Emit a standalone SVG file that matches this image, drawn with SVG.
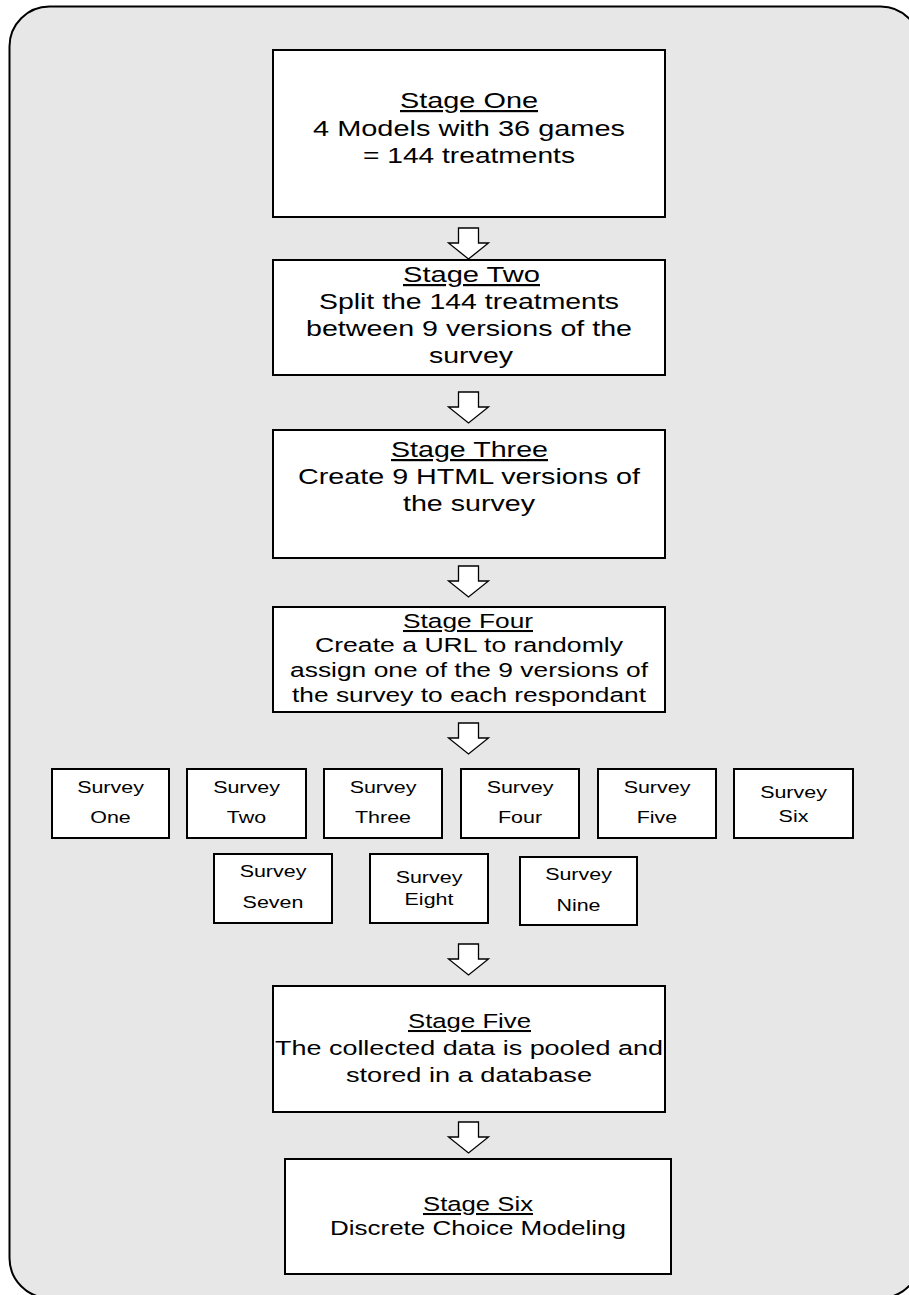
<svg xmlns="http://www.w3.org/2000/svg" width="909" height="1295" viewBox="0 0 909 1295">
<style>
.bg{fill:#e7e7e7;stroke:#000;stroke-width:2}
.box{fill:#fff;stroke:#000;stroke-width:2}
.arr{fill:#fff;stroke:#000;stroke-width:1.3;stroke-linejoin:miter}
text{font-family:"Liberation Sans",Arial,sans-serif;fill:#000}
.t22{font-size:22px}
.t20{font-size:20.5px}
.s{font-size:16.5px;text-anchor:middle}
.u{text-decoration:underline}
</style>
<defs>
<path id="blk" d="M-10,0 L10,0 L10,15 L20,15 L0,31 L-20,15 L-10,15 Z"/>
</defs>
<rect class="bg" x="9.5" y="6.5" width="911" height="1291.5" rx="40" ry="40"/>

<g id="connectors">
<use href="#blk" class="arr" transform="translate(468.5,228)"/>
<use href="#blk" class="arr" transform="translate(468.5,392)"/>
<use href="#blk" class="arr" transform="translate(468.5,566)"/>
<use href="#blk" class="arr" transform="translate(468.5,723)"/>
<use href="#blk" class="arr" transform="translate(468.5,944)"/>
<use href="#blk" class="arr" transform="translate(468.5,1122)"/>
</g>

<g id="stage1" class="t22">
<rect class="box" x="273" y="50" width="392" height="167"/>
<text class="u" x="400" y="108" textLength="138" lengthAdjust="spacingAndGlyphs">Stage One</text>
<text x="313" y="136" textLength="312" lengthAdjust="spacingAndGlyphs">4 Models with 36 games</text>
<text x="363" y="163" textLength="212" lengthAdjust="spacingAndGlyphs">= 144 treatments</text>
</g>

<g id="stage2" class="t22">
<rect class="box" x="273" y="260" width="392" height="115"/>
<text class="u" x="403" y="282" textLength="137" lengthAdjust="spacingAndGlyphs">Stage Two</text>
<text x="319" y="309" textLength="300" lengthAdjust="spacingAndGlyphs">Split the 144 treatments</text>
<text x="306" y="336" textLength="326" lengthAdjust="spacingAndGlyphs">between 9 versions of the</text>
<text x="429" y="363" textLength="84" lengthAdjust="spacingAndGlyphs">survey</text>
</g>

<g id="stage3" class="t22">
<rect class="box" x="273" y="430" width="392" height="128"/>
<text class="u" x="391" y="457" textLength="157" lengthAdjust="spacingAndGlyphs">Stage Three</text>
<text x="298" y="484" textLength="342" lengthAdjust="spacingAndGlyphs">Create 9 HTML versions of</text>
<text x="403" y="511" textLength="132" lengthAdjust="spacingAndGlyphs">the survey</text>
</g>

<g id="stage4" class="t20">
<rect class="box" x="273" y="607" width="392" height="105"/>
<text class="u" x="403" y="628" textLength="130" lengthAdjust="spacingAndGlyphs">Stage Four</text>
<text x="315" y="652" textLength="308" lengthAdjust="spacingAndGlyphs">Create a URL to randomly</text>
<text x="290" y="677" textLength="358" lengthAdjust="spacingAndGlyphs">assign one of the 9 versions of</text>
<text x="292" y="702" textLength="354" lengthAdjust="spacingAndGlyphs">the survey to each respondant</text>
</g>

<g id="survey1"><rect class="box" x="52" y="769" width="117" height="69"/>
<g transform="translate(110.5,0) scale(1.3,1)" class="s"><text x="0" y="793">Survey</text><text x="0" y="823">One</text></g></g>
<g id="survey2"><rect class="box" x="187" y="769" width="119" height="69"/>
<g transform="translate(246.5,0) scale(1.3,1)" class="s"><text x="0" y="793">Survey</text><text x="0" y="823">Two</text></g></g>
<g id="survey3"><rect class="box" x="324" y="769" width="118" height="69"/>
<g transform="translate(383,0) scale(1.3,1)" class="s"><text x="0" y="793">Survey</text><text x="0" y="823">Three</text></g></g>
<g id="survey4"><rect class="box" x="461" y="769" width="118" height="69"/>
<g transform="translate(520,0) scale(1.3,1)" class="s"><text x="0" y="793">Survey</text><text x="0" y="823">Four</text></g></g>
<g id="survey5"><rect class="box" x="598" y="769" width="118" height="69"/>
<g transform="translate(657,0) scale(1.3,1)" class="s"><text x="0" y="793">Survey</text><text x="0" y="823">Five</text></g></g>
<g id="survey6"><rect class="box" x="734" y="769" width="119" height="69"/>
<g transform="translate(793.5,0) scale(1.3,1)" class="s"><text x="0" y="798">Survey</text><text x="0" y="822">Six</text></g></g>
<g id="survey7"><rect class="box" x="214" y="854" width="118" height="69"/>
<g transform="translate(273,0) scale(1.3,1)" class="s"><text x="0" y="877">Survey</text><text x="0" y="908">Seven</text></g></g>
<g id="survey8"><rect class="box" x="370" y="854" width="118" height="69"/>
<g transform="translate(429,0) scale(1.3,1)" class="s"><text x="0" y="883">Survey</text><text x="0" y="905">Eight</text></g></g>
<g id="survey9"><rect class="box" x="520" y="857" width="117" height="68"/>
<g transform="translate(578.5,0) scale(1.3,1)" class="s"><text x="0" y="880">Survey</text><text x="0" y="911">Nine</text></g></g>

<g id="stage5" class="t20">
<rect class="box" x="273" y="986" width="392" height="126"/>
<text class="u" x="408" y="1028" textLength="123" lengthAdjust="spacingAndGlyphs">Stage Five</text>
<text x="275" y="1055" textLength="388" lengthAdjust="spacingAndGlyphs">The collected data is pooled and</text>
<text x="346" y="1082" textLength="246" lengthAdjust="spacingAndGlyphs">stored in a database</text>
</g>

<g id="stage6" class="t20">
<rect class="box" x="285" y="1159" width="386" height="115"/>
<text class="u" x="423" y="1211" textLength="110" lengthAdjust="spacingAndGlyphs">Stage Six</text>
<text x="330" y="1235" textLength="296" lengthAdjust="spacingAndGlyphs">Discrete Choice Modeling</text>
</g>
</svg>
